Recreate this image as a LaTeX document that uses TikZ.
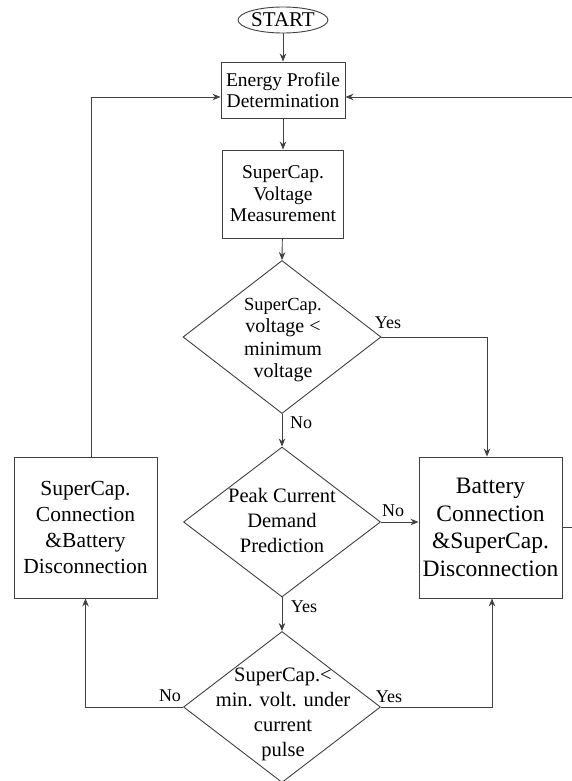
\documentclass[tikz,border=0pt]{standalone}
\usepackage{fontspec}
\setmainfont{Liberation Serif}
\usetikzlibrary{shapes.geometric,arrows.meta,calc}
\begin{document}
\begin{tikzpicture}[x=1pt,y=-1pt,
  line/.style={draw=black!75,line width=0.9pt},
  arr/.style={line,-{Stealth[length=8pt,width=6.5pt]}},
  box/.style={draw=black!75,line width=0.9pt,rectangle,inner sep=0pt,align=center},
  dia/.style={draw=black!75,line width=0.9pt,diamond,inner sep=0pt},
  dtext/.style={align=center,inner sep=0pt},
  lab/.style={inner sep=0pt,font=\fontsize{18}{20}\selectfont}]
\useasboundingbox (0,0) rectangle (572,781);
\fill[white] (0,0) rectangle (572,781);

\node[draw=black!75,line width=0.9pt,ellipse,inner sep=0pt,minimum width=78pt,minimum height=26pt,
  font=\fontsize{21}{22}\selectfont] (start) at (283,20) {START};
\node[box,minimum width=124pt,minimum height=56pt,font=\fontsize{19.5}{21}\selectfont] (energy) at (283,90)
  {Energy Profile\\Determination};
\node[box,minimum width=121pt,minimum height=88pt,font=\fontsize{19.5}{21.5}\selectfont] (meas) at (283,194)
  {SuperCap.\\Voltage\\Measurement};

\node[dia,minimum width=198pt,minimum height=153pt] (d1) at (282,337) {};
\node[dtext,font=\fontsize{20}{22.5}\selectfont] (t1) at (283,340) {{\fontsize{18.5}{22.5}\selectfont SuperCap.}\\voltage <\\minimum\\voltage};

\node[dia,minimum width=197pt,minimum height=150pt] (d2) at (282,522) {};
\node[dtext,font=\fontsize{20.5}{25}\selectfont] (t2) at (282,520) {Peak Current\\Demand\\Prediction};

\node[dia,minimum width=197pt,minimum height=151pt] (d3) at (282,707) {};
\node[dtext,font=\fontsize{20.5}{25}\selectfont] (t3) at (283,714) {SuperCap.<\\min. volt. under\\current\\pulse};

\node[box,minimum width=143pt,minimum height=141pt,font=\fontsize{21.5}{26}\selectfont] (left) at (85.5,527.5)
  {SuperCap.\\Connection\\\&Battery\\Disconnection};
\node[box,minimum width=143pt,minimum height=141pt,font=\fontsize{23.5}{27.5}\selectfont] (bat) at (490.5,527.5)
  {Battery\\Connection\\\&SuperCap.\\Disconnection};

\draw[arr] (start) -- (energy);
\draw[arr] (energy) -- (meas);
\draw[arr] (meas) -- (d1.north);
\draw[arr] (d1.east) -| ([xshift=-3.5pt]bat.north);
\draw[arr] (d1.south) -- (d2.north);
\draw[arr] (d2.east) -- (d2.east -| bat.west);
\draw[arr] (d2.south) -- (d3.north);
\draw[arr] (d3.west) -| (left.south);
\draw[arr] (d3.east) -| ([xshift=1.5pt]bat.south);
\draw[arr] ([xshift=5.5pt]left.north) |- ([yshift=-7pt]energy.west);
\draw[arr] (bat.east) -- ++(25,0) |- ([yshift=-7pt]energy.east);

\node[lab] (y1) at (388,323) {Yes};
\node[lab] (n1) at (301,423) {No};
\node[lab] (n2) at (393,511) {No};
\node[lab] (y2) at (304,607) {Yes};
\node[lab] (n3) at (170,696) {No};
\node[lab] (y3) at (389,697) {Yes};
\end{tikzpicture}
\end{document}
